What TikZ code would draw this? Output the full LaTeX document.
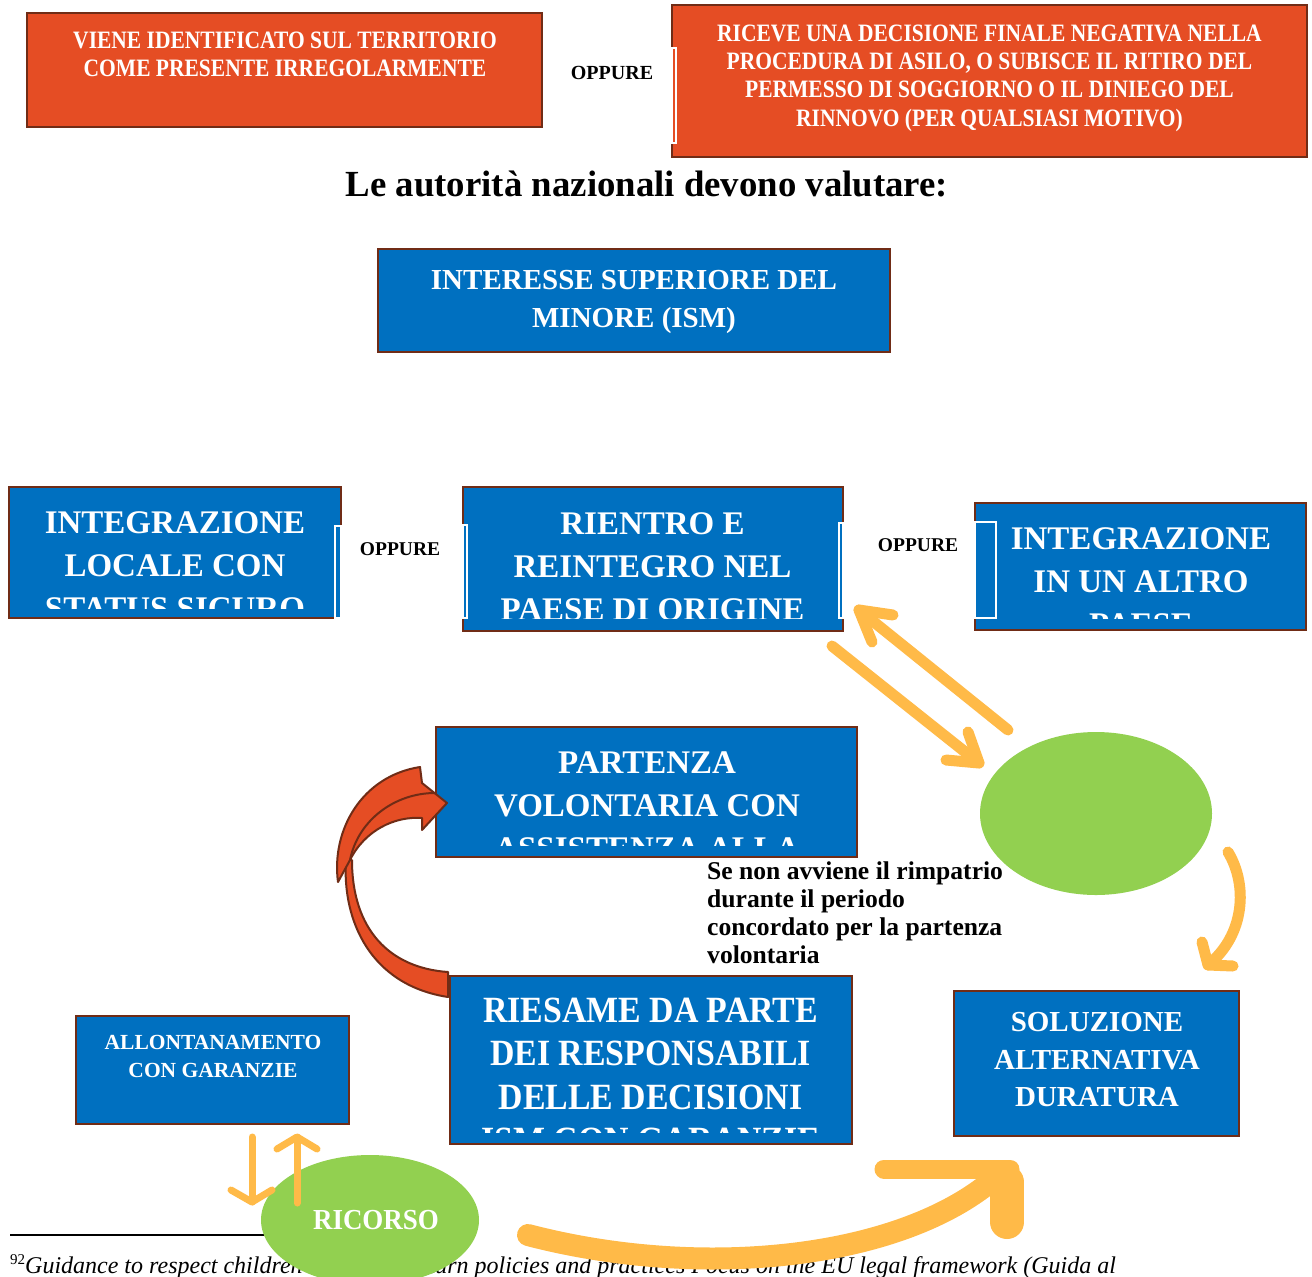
\documentclass[tikz,border=0pt]{standalone}
\usepackage{fontspec}
\setmainfont{Liberation Serif}
\newfontfamily\condA{Liberation Serif}[FakeStretch=0.86]
\newfontfamily\condB{Liberation Serif}[FakeStretch=0.915]
\newfontfamily\condC{Liberation Serif}[FakeStretch=0.93]
\usetikzlibrary{shapes.geometric}
\definecolor{boxorange}{RGB}{229,77,36}
\definecolor{boxbrown}{RGB}{112,44,22}
\definecolor{boxblue}{RGB}{0,112,192}
\definecolor{leafgreen}{RGB}{146,208,80}
\definecolor{amber}{RGB}{255,186,72}
\newcommand\cst[1]{\rule{0pt}{#1pt}}
\tikzset{
  box/.style={draw=boxbrown, line width=2.4pt, inner sep=0pt, outer sep=0pt, anchor=north west},
  obox/.style={box, fill=boxorange},
  bbox/.style={box, fill=boxblue},
  wtxt/.style={text=white, inner sep=0pt, align=center, anchor=north},
  ktxt/.style={text=black, inner sep=0pt},
  bracket/.style={draw=black!25, line width=0.5pt, double=white, double distance=1.6pt},
  yarrow/.style={draw=amber, line width=11pt, line cap=round, line join=round},
  sarrow/.style={draw=amber, line width=7pt, line cap=round, line join=round},
  redarrow/.style={fill=boxorange, draw=boxbrown, line width=2pt, line join=round},
}
\begin{document}
\begin{tikzpicture}[x=1pt,y=-1pt]
\useasboundingbox (0,0) rectangle (1312,1277);
\clip (0,0) rectangle (1312,1277);
\fill[white] (0,0) rectangle (1312,1277);

% top row
\node[obox, minimum width=515pt, minimum height=114pt] (idBox) at (27,13) {};
\node[wtxt, font=\condA\bfseries\fontsize{25}{28.3}\selectfont] (idTxt) at (285,23.2)
  {\cst{25}VIENE IDENTIFICATO SUL TERRITORIO\\COME PRESENTE IRREGOLARMENTE};
\node[ktxt, font=\bfseries\fontsize{20}{20}\selectfont] (or1) at (612,73) {OPPURE};
\node[obox, minimum width=635pt, minimum height=152pt] (negBox) at (672,5) {};
\node[wtxt, font=\condA\bfseries\fontsize{25}{28.2}\selectfont] (negTxt) at (989.5,16.2)
  {\cst{25}RICEVE UNA DECISIONE FINALE NEGATIVA NELLA\\PROCEDURA DI ASILO, O SUBISCE IL RITIRO DEL\\PERMESSO DI SOGGIORNO O IL DINIEGO DEL\\RINNOVO (PER QUALSIASI MOTIVO)};
\draw[bracket] (672,48) rectangle (676,143);

% heading
\node[ktxt, anchor=base, font=\bfseries\fontsize{36.8}{40}\selectfont] (head) at (647,196)
  {Le autorità nazionali devono valutare:};

% ISM
\node[bbox, minimum width=512pt, minimum height=103pt] (ismBox) at (378,249) {};
\node[wtxt, font=\bfseries\fontsize{29}{38}\selectfont] (ismTxt) at (634,260.5)
  {\cst{29}INTERESSE SUPERIORE DEL\\MINORE (ISM)};

% row of options
\node[bbox, minimum width=332pt, minimum height=131pt] (locBox) at (9,487) {};
\begin{scope}
  \clip (9,487) rectangle (341,608);
  \node[wtxt, font=\bfseries\fontsize{33}{43}\selectfont] (locTxt) at (175,499.8)
    {\cst{33}INTEGRAZIONE\\LOCALE CON\\STATUS SICURO};
\end{scope}
\draw[bracket] (335,526) rectangle (341,618);
\node[ktxt, font=\bfseries\fontsize{19.5}{20}\selectfont] (or2) at (400,549) {OPPURE};

\node[bbox, minimum width=380pt, minimum height=144pt] (retBox) at (463,487) {};
\begin{scope}
  \clip (463,487) rectangle (843,618);
  \node[wtxt, font=\bfseries\fontsize{33}{43}\selectfont] (retTxt) at (652.5,501.3)
    {\cst{33}RIENTRO E\\REINTEGRO NEL\\PAESE DI ORIGINE};
\end{scope}
\draw[bracket] (463,525) rectangle (467,618);
\draw[bracket] (839,523) rectangle (843,618);
\node[ktxt, font=\bfseries\fontsize{19.5}{20}\selectfont] (or3) at (918,545) {OPPURE};

\node[bbox, minimum width=331pt, minimum height=127pt] (altBox) at (975,503) {};
\begin{scope}
  \clip (975,503) rectangle (1306,618);
  \node[wtxt, font=\bfseries\fontsize{33}{43}\selectfont] (altTxt) at (1141,515.8)
    {\cst{33}INTEGRAZIONE\\IN UN ALTRO\\PAESE};
\end{scope}
\draw[bracket] (975,522) rectangle (996,618);

% voluntary departure
\node[bbox, minimum width=421pt, minimum height=130pt] (volBox) at (436,727) {};
\begin{scope}
  \clip (436,727) rectangle (857,845);
  \node[wtxt, font=\bfseries\fontsize{33}{43}\selectfont] (volTxt) at (647,739.8)
    {\cst{33}PARTENZA\\VOLONTARIA CON\\ASSISTENZA ALLA};
\end{scope}

% note
\node[ktxt, anchor=north west, align=left, font=\bfseries\fontsize{25.6}{28.1}\selectfont] (note) at (707,853.4)
  {\cst{25.6}Se non avviene il rimpatrio\\durante il periodo\\concordato per la partenza\\volontaria};

% review
\node[bbox, minimum width=402pt, minimum height=168pt] (revBox) at (450,976) {};
\begin{scope}
  \clip (450,976) rectangle (852,1132);
  \node[wtxt, font=\condB\bfseries\fontsize{37}{43.5}\selectfont] (revTxt) at (650.6,985.1)
    {\cst{37}RIESAME DA PARTE\\DEI RESPONSABILI\\DELLE DECISIONI\\ISM CON GARANZIE};
\end{scope}

% durable solution
\node[bbox, minimum width=285pt, minimum height=145pt] (solBox) at (954,991) {};
\node[wtxt, font=\bfseries\fontsize{29}{37.5}\selectfont] (solTxt) at (1097,1002.5)
  {\cst{29}SOLUZIONE\\ALTERNATIVA\\DURATURA};

% removal
\node[bbox, minimum width=273pt, minimum height=108pt] (remBox) at (76,1016) {};
\node[wtxt, font=\bfseries\fontsize{21.5}{28}\selectfont] (remTxt) at (213,1027.6)
  {\cst{21.5}ALLONTANAMENTO\\CON GARANZIE};

% green ellipse (evaluation)
\node[ellipse, fill=leafgreen, inner sep=0pt, minimum width=232pt, minimum height=163pt] (evalEll) at (1096,813.5) {};

% red curved arrow: back band then front lobe
\path[redarrow] (346,860) .. controls (342,920) and (370,985) .. (448,997)
  -- (448,972) .. controls (390,968) and (352,930) .. (352,860) -- cycle;
\path[redarrow] (420,767) -- (422,783) -- (447,803) -- (422,830) -- (422,818)
  .. controls (395,816) and (365,830) .. (350,860) -- (338,882)
  .. controls (331,830) and (362,776) .. (420,767) -- cycle;
\draw[boxbrown, line width=2pt] (435,793) .. controls (395,793) and (358,820) .. (350,860);

% yellow arrows between the return box, ellipse and solution
\coordinate (aTail) at (1008,730);
\coordinate (aTip) at (859,610);
\draw[yarrow] (aTail) -- (aTip);
\draw[yarrow] (893,615) -- (aTip) -- (872,642);
\coordinate (bTail) at (832,646);
\coordinate (bTip) at (979,763);
\draw[yarrow] (bTail) -- (bTip);
\draw[yarrow] (968,732) -- (bTip) -- (946,760);
\coordinate (cTail) at (1228,852);
\coordinate (cTip) at (1208,965);
\draw[yarrow] (cTail) .. controls (1248,885) and (1245,935) .. (cTip);
\draw[yarrow] (1202,942) -- (cTip) -- (1233,966);

% footnote (drawn below the shapes that cover it)
\draw[black, line width=2pt] (10,1235) -- (300,1235);
\node[ktxt, anchor=base west, font=\itshape\fontsize{24}{24}\selectfont] (fn) at (10,1273)
  {\raisebox{9pt}{\upshape\fontsize{15}{15}\selectfont 92}Guidance to respect children's rights in return policies and practices Focus on the EU legal framework (Guida al};

% appeal ellipse
\node[ellipse, fill=leafgreen, inner sep=0pt, minimum width=218pt, minimum height=130pt,
  text=white, font=\condC\bfseries\fontsize{29}{29}\selectfont] (ricEll) at (370,1220) {\hspace{12pt}RICORSO};

% small arrows between removal box and appeal
\coordinate (dTop) at (252,1137);
\coordinate (dTip) at (252,1202);
\draw[sarrow] (dTop) -- (dTip);
\draw[sarrow] (231,1190) -- (dTip) -- (272,1190);
\coordinate (uBot) at (297,1203);
\coordinate (uTip) at (297,1137);
\draw[sarrow] (uBot) -- (uTip);
\draw[sarrow] (277,1149) -- (uTip) -- (317,1149);

% big arrow from appeal to solution
\coordinate (bigTail) at (528,1235);
\coordinate (bigEnd) at (995,1178);
\draw[amber, line width=22pt, line cap=round] (bigTail) .. controls (700,1280) and (900,1260) .. (bigEnd);
\draw[amber, line width=19pt, line cap=round] (884,1169) -- (1010,1169);
\draw[amber, line width=34pt, line cap=round] (1007,1182) -- (1007,1222);
\end{tikzpicture}
\end{document}
